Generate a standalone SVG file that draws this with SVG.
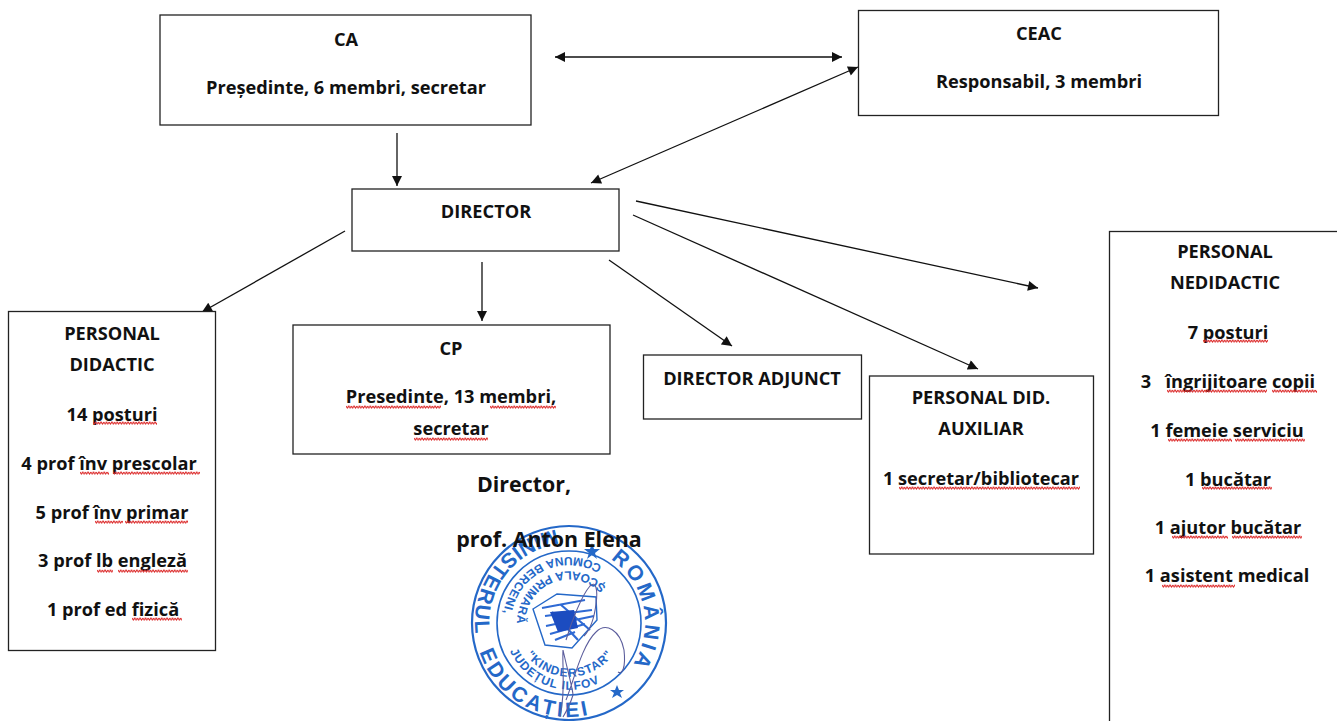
<svg xmlns="http://www.w3.org/2000/svg" width="1337" height="721" viewBox="0 0 1337 721">
<style>
text{font-family:"Open Sans","Liberation Sans",sans-serif;font-weight:700;font-size:18.200px;fill:#111;text-anchor:middle}
.box{fill:#fff;stroke:#222;stroke-width:1.3}
.c{fill:none;stroke:#111;stroke-width:1.3}
.sq{fill:url(#wave)}
.big{font-size:21.400px}
.seal text{fill:#2468c8;font-family:"Liberation Sans",sans-serif;text-anchor:start}
.o{font-size:21px;letter-spacing:3px}
.m{font-size:21px;letter-spacing:1.800px}
.i{font-size:12px;letter-spacing:1px}
.r{fill:none;stroke:#2468c8}
</style>
<defs>
<marker id="a" viewBox="0 0 10 10" refX="10" refY="5" markerWidth="11" markerHeight="10" markerUnits="userSpaceOnUse" orient="auto-start-reverse"><path d="M0 0L10 5L0 10z" fill="#111"/></marker>
<pattern id="wave" width="5.4" height="4" patternUnits="userSpaceOnUse"><path d="M0 1L1.35 3L2.7 1L4.05 3L5.4 1" fill="none" stroke="#dc2a2a" stroke-width="1"/></pattern>
<path id="p1" d="M610.4 559.2A76 76 0 0 1 627.2 671.9"/>
<path id="p2" d="M555.9 530A94 94 0 0 0 476.4 639.3"/>
<path id="p3" d="M479.6 652A94 94 0 0 0 593.3 713.8"/>
<path id="p4" d="M602 566A66 66 0 0 0 505 640"/>
<path id="p5" d="M606 587A52 52 0 0 0 518 634"/>
<path id="p6" d="M526 655A54 54 0 0 0 617 648"/>
<path id="p7" d="M510 651A66 66 0 0 0 619 668"/>
</defs>
<rect width="1337" height="721" fill="#fff"/>

<g id="seal" class="seal">
<circle class="r" cx="569" cy="623" r="97" stroke-width="2.2"/>
<circle class="r" cx="569" cy="623" r="72" stroke-width="1.6"/>
<text class="o"><textPath href="#p1">ROMÂNIA</textPath></text>
<text class="m"><textPath href="#p2">MINISTERUL</textPath></text>
<text class="o"><textPath href="#p3">EDUCAȚIEI</textPath></text>
<text class="i"><textPath href="#p4">COMUNA BERCENI,</textPath></text>
<text class="i"><textPath href="#p5">ȘCOALA PRIMARĂ</textPath></text>
<text class="i"><textPath href="#p6">"KINDERSTAR"</textPath></text>
<text class="i"><textPath href="#p7">JUDEȚUL ILFOV</textPath></text>
<path d="M592 543l2 6 6 0-5 4 2 6-5-4-5 4 2-6-5-4 6 0zM617 685l2 5 5 0-4 3 2 5-5-3-5 3 2-5-4-3 5 0z" fill="#2468c8"/>
<path d="M533 609L557 594L596 597L597 620L572 648L545 645z" fill="#fff" stroke="#2468c8" stroke-width="1.4"/>
<path d="M542 608L585 600M545 616L592 610M546 626L594 616M550 634L585 624M555 640L575 632M552 612L578 640M560 604L590 630" stroke="#2f6ad4" stroke-width="2.2" fill="none"/>
<path d="M550 612L574 610L578 628L558 632z" fill="#1c4cc0"/>
<path d="M560 717C566 690 562 668 563 650C567 668 573 690 573 695C570 705 566 712 563 717M566 640C572 620 582 595 590 586C596 580 598 590 596 604C594 620 590 630 584 636M566 700C574 680 582 645 596 632C606 622 620 630 624 650C626 668 622 675 618 672" fill="none" stroke="#5b5d9c" stroke-width="1.1"/>
</g>

<g id="connectors">
<line class="c" x1="555" y1="57" x2="842" y2="57" marker-start="url(#a)" marker-end="url(#a)"/>
<line class="c" x1="858" y1="67" x2="591" y2="183" marker-start="url(#a)" marker-end="url(#a)"/>
<line class="c" x1="397" y1="133" x2="397" y2="186" marker-end="url(#a)"/>
<line class="c" x1="345" y1="231" x2="202" y2="312" marker-end="url(#a)"/>
<line class="c" x1="482" y1="262" x2="482" y2="321" marker-end="url(#a)"/>
<line class="c" x1="609" y1="260" x2="732" y2="346" marker-end="url(#a)"/>
<line class="c" x1="633" y1="215" x2="978" y2="369" marker-end="url(#a)"/>
<line class="c" x1="636" y1="201" x2="1038" y2="288" marker-end="url(#a)"/>
</g>

<g id="ca"><rect class="box" x="160" y="15" width="371" height="110"/>
<text x="346" y="45.500">CA</text><text x="346" y="93.500">Președinte, 6 membri, secretar</text></g>

<g id="ceac"><rect class="box" x="858.500" y="10.500" width="360" height="105"/>
<text x="1039" y="39.500">CEAC</text><text x="1039" y="87.500">Responsabil, 3 membri</text></g>

<g id="director"><rect class="box" x="352" y="189" width="267" height="62"/>
<text x="486" y="217.500">DIRECTOR</text></g>

<g id="personal-didactic"><rect class="box" x="8.500" y="311.500" width="207" height="339"/>
<text x="112" y="339.500">PERSONAL</text><text x="112" y="370.500">DIDACTIC</text>
<text x="112" y="420.500">14 posturi</text><text x="109" y="469.500">4 prof înv prescolar</text><text x="112" y="518.500">5 prof înv primar</text><text x="112.500" y="566.500">3 prof lb engleză</text><text x="113" y="615.500">1 prof ed fizică</text>
<rect class="sq" transform="translate(93 421)" width="64" height="4"/>
<rect class="sq" transform="translate(80 471)" width="29" height="4"/>
<rect class="sq" transform="translate(113 471)" width="87" height="4"/>
<rect class="sq" transform="translate(95 520)" width="28" height="4"/>
<rect class="sq" transform="translate(125 520)" width="63" height="4"/>
<rect class="sq" transform="translate(97 569)" width="16" height="4"/>
<rect class="sq" transform="translate(118 569)" width="70" height="4"/>
<rect class="sq" transform="translate(132 617)" width="50" height="4"/></g>

<g id="cp"><rect class="box" x="293" y="325" width="317" height="129"/>
<text x="451" y="354.500">CP</text><text x="451" y="402.500">Presedinte, 13 membri,</text><text x="451" y="434.500">secretar</text>
<rect class="sq" transform="translate(346 405)" width="95" height="4"/>
<rect class="sq" transform="translate(490 405)" width="66" height="4"/>
<rect class="sq" transform="translate(414 437)" width="74" height="4"/></g>

<g id="director-adjunct"><rect class="box" x="643.500" y="355" width="218" height="64"/>
<text x="752" y="384.500">DIRECTOR ADJUNCT</text></g>

<g id="personal-auxiliar"><rect class="box" x="869.500" y="376" width="224" height="178"/>
<text x="981" y="403.500">PERSONAL DID.</text><text x="981" y="434.500">AUXILIAR</text><text x="981" y="484.500">1 secretar/bibliotecar</text>
<rect class="sq" transform="translate(899 486)" width="181" height="4"/></g>

<g id="personal-nedidactic"><rect class="box" x="1109.500" y="231.500" width="240" height="510"/>
<text x="1225" y="257.500">PERSONAL</text><text x="1225" y="288.500">NEDIDACTIC</text><text x="1228" y="338.500">7 posturi</text>
<text x="1228" y="387.500" xml:space="preserve">3   îngrijitoare copii</text><text x="1227" y="436.500">1 femeie serviciu</text><text x="1228" y="485.500">1 bucătar</text><text x="1228" y="533.500">1 ajutor bucătar</text><text x="1227" y="581.500">1 asistent medical</text>
<rect class="sq" transform="translate(1203 339)" width="65" height="4"/>
<rect class="sq" transform="translate(1167 389)" width="100" height="4"/>
<rect class="sq" transform="translate(1272 389)" width="45" height="4"/>
<rect class="sq" transform="translate(1168 438)" width="64" height="4"/>
<rect class="sq" transform="translate(1235 438)" width="70" height="4"/>
<rect class="sq" transform="translate(1202 486)" width="70" height="4"/>
<rect class="sq" transform="translate(1172 535)" width="56" height="4"/>
<rect class="sq" transform="translate(1232 535)" width="70" height="4"/>
<rect class="sq" transform="translate(1162 584)" width="73" height="4"/></g>

<g id="signature-text"><text class="big" x="524" y="491.500">Director,</text><text class="big" x="549" y="546.500">prof. Anton Elena</text></g>
</svg>
